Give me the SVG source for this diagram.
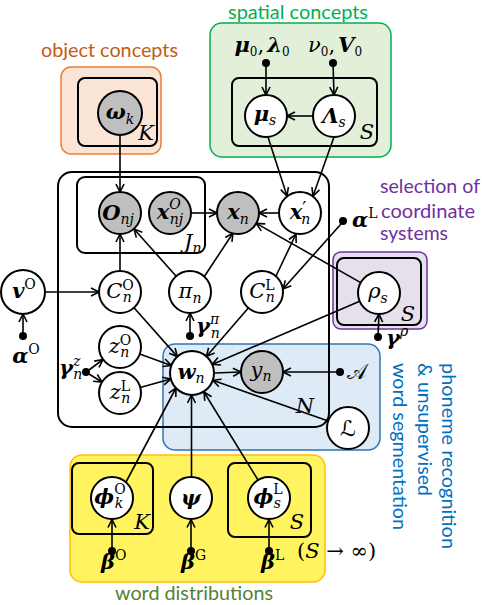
<svg xmlns="http://www.w3.org/2000/svg" width="484" height="605" viewBox="0 0 484 605">
<style>
.t{font-family:"DejaVu Serif","Liberation Serif",serif;font-style:italic;font-size:21px;fill:#000}
.b{font-weight:bold}
.sm{font-size:14px}
.up{font-style:normal}
.lab{font-family:Lato,"Open Sans",sans-serif;font-size:20px}
.plate{fill:none;stroke:#000;stroke-width:2}
.node{stroke:#000;stroke-width:2;fill:#fff}
.obs{fill:#bfbfbf}
.e{fill:none;stroke:#000;stroke-width:1.6;marker-end:url(#ah)}
.dot{fill:#000}
</style>
<defs>
<marker id="ah" viewBox="0 0 10 10" refX="9" refY="5" markerWidth="10" markerHeight="10" markerUnits="userSpaceOnUse" orient="auto">
<path d="M1,1 L9,5 L1,9" fill="none" stroke="#000" stroke-width="1.6"/>
</marker>
</defs>
<rect width="484" height="605" fill="#fff"/>

<g id="regions">
<rect x="61" y="67" width="100" height="87" rx="10" fill="#fbe5d6" stroke="#ed7d31" stroke-width="1.5"/>
<rect x="210" y="23" width="181" height="134" rx="12" fill="#e2f0d9" stroke="#00b050" stroke-width="1.5"/>
<rect x="333" y="252" width="94" height="77" rx="8" fill="#e5e0ec" stroke="#7030a0" stroke-width="1.5"/>
<rect x="163" y="344" width="217" height="106" rx="12" fill="#deebf7" stroke="#2e75b6" stroke-width="1.5"/>
<rect x="70" y="455" width="255" height="127" rx="12" fill="#fff45f" stroke="#ffc000" stroke-width="1.5"/>
<text class="lab" x="41" y="57" fill="#c55a11" textLength="137" lengthAdjust="spacingAndGlyphs">object concepts</text>
<text class="lab" x="228" y="19" fill="#00b050" textLength="140" lengthAdjust="spacingAndGlyphs">spatial concepts</text>
<text class="lab" x="380" y="193" fill="#7030a0" textLength="100" lengthAdjust="spacingAndGlyphs">selection of</text>
<text class="lab" x="381" y="218" fill="#7030a0" textLength="94" lengthAdjust="spacingAndGlyphs">coordinate</text>
<text class="lab" x="380" y="240" fill="#7030a0" textLength="68" lengthAdjust="spacingAndGlyphs">systems</text>
<text class="lab" font-size="21" transform="translate(442,363) rotate(90)" fill="#0070c0" textLength="186" lengthAdjust="spacingAndGlyphs">phoneme recognition</text>
<text class="lab" font-size="21" transform="translate(418,363) rotate(90)" fill="#0070c0" textLength="133" lengthAdjust="spacingAndGlyphs">&amp; unsupervised</text>
<text class="lab" font-size="21" transform="translate(393,363) rotate(90)" fill="#0070c0" textLength="167" lengthAdjust="spacingAndGlyphs">word segmentation</text>
<text class="lab" font-size="21" x="115" y="600" fill="#548235" textLength="158" lengthAdjust="spacingAndGlyphs">word distributions</text>
</g>

<g id="plates">
<rect class="plate" x="78" y="78" width="79" height="68" rx="7"/>
<text class="t" x="146" y="140" text-anchor="middle">K</text>
<rect class="plate" x="232" y="78" width="145" height="68" rx="7"/>
<text class="t" x="367" y="139" text-anchor="middle">S</text>
<rect class="plate" x="58" y="172" width="271" height="255" rx="14"/>
<text class="t" x="305" y="413" text-anchor="middle">N</text>
<rect class="plate" x="77" y="177" width="128" height="76" rx="8"/>
<text class="t" x="184" y="249">J<tspan class="sm" dy="4">n</tspan></text>
<rect class="plate" x="337" y="258" width="84" height="67" rx="7"/>
<text class="t" x="408" y="321" text-anchor="middle">S</text>
<rect class="plate" x="72" y="463" width="81" height="71" rx="7"/>
<text class="t" x="142" y="529" text-anchor="middle">K</text>
<rect class="plate" x="228" y="463" width="83" height="74" rx="7"/>
<text class="t" x="297" y="529" text-anchor="middle">S</text>
<text class="t up" x="297" y="558" font-size="19">(<tspan class="t" font-size="20">S</tspan> → ∞)</text>
</g>

<g id="connectors">
<line class="e" x1="120" y1="135" x2="120" y2="192"/>
<line class="e" x1="266" y1="63" x2="266" y2="95"/>
<line class="e" x1="333" y1="63" x2="334" y2="95"/>
<line class="e" x1="313" y1="116" x2="287" y2="116"/>
<line class="e" x1="268" y1="137" x2="287" y2="196"/>
<line class="e" x1="334" y1="137" x2="313" y2="196"/>
<line class="e" x1="191" y1="213" x2="217" y2="213"/>
<line class="e" x1="279" y1="213" x2="259" y2="213"/>
<line class="e" x1="120" y1="271" x2="120" y2="234"/>
<line class="e" x1="176" y1="276" x2="134" y2="229"/>
<line class="e" x1="204" y1="277" x2="233" y2="233"/>
<line class="e" x1="276" y1="276" x2="296" y2="234"/>
<line class="e" x1="341" y1="224" x2="283" y2="289"/>
<line class="e" x1="360.7" y1="282.6" x2="256.3" y2="223.4"/>
<line class="e" x1="45" y1="292" x2="99" y2="292"/>
<line class="e" x1="23" y1="336" x2="23" y2="314"/>
<line class="e" x1="190" y1="336" x2="190" y2="313"/>
<line class="e" x1="378" y1="337" x2="379" y2="314"/>
<line class="e" x1="134" y1="307.7" x2="177.4" y2="356.6"/>
<line class="e" x1="248.3" y1="307.9" x2="206.4" y2="356.4"/>
<line class="e" x1="359.7" y1="301.3" x2="212.2" y2="364.4"/>
<line class="e" x1="139.7" y1="354.1" x2="171.3" y2="365.5"/>
<line class="e" x1="140.2" y1="387.4" x2="170.8" y2="378.9"/>
<line class="e" x1="89" y1="370" x2="103" y2="359.5"/>
<line class="e" x1="89" y1="374" x2="102" y2="382"/>
<line class="e" x1="214" y1="373" x2="241" y2="372"/>
<line class="e" x1="340" y1="372" x2="283" y2="372"/>
<line class="e" x1="328.2" y1="421" x2="212.7" y2="380.3"/>
<line class="e" x1="126" y1="482" x2="176" y2="388"/>
<line class="e" x1="191.5" y1="477" x2="191.5" y2="395"/>
<line class="e" x1="258" y1="480" x2="204" y2="392"/>
<line class="e" x1="112" y1="551" x2="112" y2="519.5"/>
<line class="e" x1="191" y1="551" x2="191" y2="519.5"/>
<line class="e" x1="269" y1="551" x2="269" y2="519.5"/>
</g>

<g id="hyper">
<circle class="dot" cx="266" cy="63" r="4"/>
<circle class="dot" cx="333" cy="63" r="4"/>
<circle class="dot" cx="343" cy="221" r="4"/>
<circle class="dot" cx="23" cy="336" r="4"/>
<circle class="dot" cx="190" cy="336" r="4"/>
<circle class="dot" cx="86" cy="372" r="4"/>
<circle class="dot" cx="378" cy="337" r="4"/>
<circle class="dot" cx="340" cy="372" r="4"/>
<circle class="dot" cx="112" cy="551" r="4"/>
<circle class="dot" cx="191" cy="551" r="4"/>
<circle class="dot" cx="269" cy="551" r="4"/>
<text class="t" x="262" y="52" font-size="19" text-anchor="middle"><tspan class="b">μ</tspan><tspan class="up" font-size="12" dy="4">0</tspan><tspan class="up" dy="-4">,</tspan><tspan class="b" dx="3">λ</tspan><tspan class="up" font-size="12" dy="4">0</tspan></text>
<text class="t" x="335" y="52" font-size="19" text-anchor="middle">ν<tspan class="up" font-size="12" dy="4">0</tspan><tspan class="up" dy="-4">,</tspan><tspan class="b" dx="3">V</tspan><tspan class="up" font-size="12" dy="4">0</tspan></text>
<text class="t" x="352" y="227"><tspan class="b">α</tspan><tspan class="sm up" dy="-9">L</tspan></text>
<text class="t" x="26" y="363" text-anchor="middle"><tspan class="b">α</tspan><tspan class="sm up" dy="-9">O</tspan></text>
<text class="t" x="196" y="333"><tspan class="b">γ</tspan><tspan class="sm" dy="-9">π</tspan><tspan class="sm" dx="-8.4" dy="14">n</tspan></text>
<text class="t" x="59" y="375"><tspan class="b">γ</tspan><tspan class="sm" dy="-9">z</tspan><tspan class="sm" dx="-7" dy="13">n</tspan></text>
<text class="t" x="386" y="345"><tspan class="b">γ</tspan><tspan class="sm" dy="-9">ρ</tspan></text>
<text x="347" y="379" font-family="DejaVu Serif, DejaVu Sans, serif" font-size="21">𝒜</text>
<text class="t" x="101" y="569"><tspan class="b">β</tspan><tspan class="sm up" dy="-9">O</tspan></text>
<text class="t" x="181" y="569"><tspan class="b">β</tspan><tspan class="sm up" dy="-9">G</tspan></text>
<text class="t" x="261" y="569"><tspan class="b">β</tspan><tspan class="sm up" dy="-9">L</tspan></text>
</g>

<g id="n-omega"><circle class="node obs" cx="120" cy="113" r="22"/><text class="t" x="120" y="119" text-anchor="middle"><tspan class="b">ω</tspan><tspan class="sm" dy="5">k</tspan></text></g>
<g id="n-mus"><circle class="node" cx="266" cy="116" r="21"/><text class="t" x="265" y="121" text-anchor="middle"><tspan class="b">μ</tspan><tspan class="sm" dy="4">s</tspan></text></g>
<g id="n-Lambdas"><circle class="node" cx="334" cy="116" r="21"/><text class="t" x="334" y="123" text-anchor="middle"><tspan class="b">Λ</tspan><tspan class="sm" dy="4">s</tspan></text></g>
<g id="n-Onj"><circle class="node obs" cx="120" cy="213" r="21"/><text class="t" x="118" y="220" text-anchor="middle"><tspan class="b">O</tspan><tspan class="sm" dy="4">nj</tspan></text></g>
<g id="n-xOnj"><circle class="node obs" cx="170" cy="213" r="21"/><text class="t" x="170" y="219" text-anchor="middle"><tspan class="b">x</tspan><tspan class="sm" dy="-10">O</tspan><tspan class="sm" dx="-11" dy="15">nj</tspan></text></g>
<g id="n-xn"><circle class="node obs" cx="238" cy="213" r="21"/><text class="t" x="238" y="219" text-anchor="middle"><tspan class="b">x</tspan><tspan class="sm" dy="5">n</tspan></text></g>
<g id="n-xpn"><circle class="node" cx="300" cy="213" r="21"/><text class="t" x="300" y="219" text-anchor="middle"><tspan class="b">x</tspan><tspan class="up" font-size="18" dy="-4">′</tspan><tspan class="sm" dx="-5" dy="9">n</tspan></text></g>
<g id="n-vO"><circle class="node" cx="23" cy="292" r="22"/><text class="t" x="24" y="298" text-anchor="middle"><tspan class="b">v</tspan><tspan class="sm up" dy="-9">O</tspan></text></g>
<g id="n-COn"><circle class="node" cx="120" cy="292" r="21"/><text class="t" x="120" y="298" text-anchor="middle">C<tspan class="sm up" dy="-8">O</tspan><tspan class="sm" dx="-11" dy="12">n</tspan></text></g>
<g id="n-pin"><circle class="node" cx="190" cy="292" r="21"/><text class="t" x="190" y="298" text-anchor="middle">π<tspan class="sm" dy="5">n</tspan></text></g>
<g id="n-CLn"><circle class="node" cx="262" cy="292" r="21"/><text class="t" x="262" y="298" text-anchor="middle">C<tspan class="sm up" dy="-8">L</tspan><tspan class="sm" dx="-8.9" dy="12">n</tspan></text></g>
<g id="n-rhos"><circle class="node" cx="379" cy="293" r="21"/><text class="t" x="378" y="298" text-anchor="middle">ρ<tspan class="sm" dy="5">s</tspan></text></g>
<g id="n-zOn"><circle class="node" cx="120" cy="347" r="21"/><text class="t" x="120" y="353" text-anchor="middle">z<tspan class="sm up" dy="-8">O</tspan><tspan class="sm" dx="-11" dy="12">n</tspan></text></g>
<g id="n-zLn"><circle class="node" cx="120" cy="393" r="21"/><text class="t" x="120" y="399" text-anchor="middle">z<tspan class="sm up" dy="-8">L</tspan><tspan class="sm" dx="-8.9" dy="12">n</tspan></text></g>
<g id="n-wn"><circle class="node" cx="192" cy="373" r="22"/><text class="t" x="191" y="379" text-anchor="middle"><tspan class="b">w</tspan><tspan class="sm" dy="4">n</tspan></text></g>
<g id="n-yn"><circle class="node obs" cx="262" cy="372" r="21"/><text class="t" x="261" y="377" text-anchor="middle">y<tspan class="sm" dy="4">n</tspan></text></g>
<g id="n-L"><circle class="node" cx="348" cy="428" r="21"/><text x="348" y="436" text-anchor="middle" font-family="DejaVu Serif, DejaVu Sans, serif" font-size="22">ℒ</text></g>
<g id="n-phiO"><circle class="node" cx="112" cy="498" r="21"/><text class="t" x="110" y="504" text-anchor="middle"><tspan class="b">ϕ</tspan><tspan class="sm up" dy="-10">O</tspan><tspan class="sm" dx="-11" dy="14">k</tspan></text></g>
<g id="n-psi"><circle class="node" cx="191" cy="498" r="21"/><text class="t b" x="191" y="505" text-anchor="middle">ψ</text></g>
<g id="n-phiL"><circle class="node" cx="269" cy="498" r="21"/><text class="t" x="268" y="504" text-anchor="middle"><tspan class="b">ϕ</tspan><tspan class="sm up" dy="-10">L</tspan><tspan class="sm" dx="-8.9" dy="14">s</tspan></text></g>
</svg>
